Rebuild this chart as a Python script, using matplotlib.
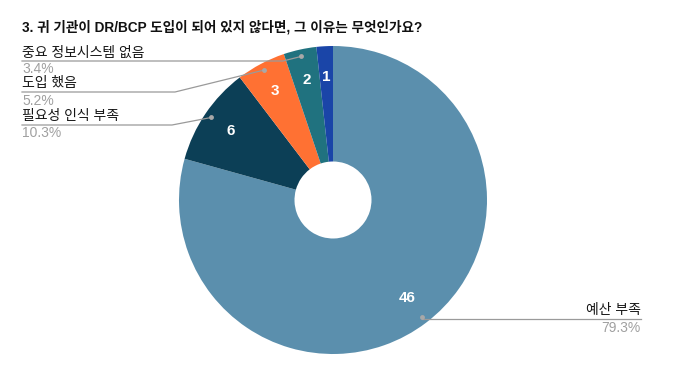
import numpy as np
import matplotlib
matplotlib.use("Agg")
import matplotlib.pyplot as plt

plt.rcParams['font.family'] = ['Liberation Sans', 'Noto Sans CJK KR', 'DejaVu Sans']

# data, clockwise from 12 o'clock
title = "3. 귀 기관이 DR/BCP 도입이 되어 있지 않다면, 그 이유는 무엇인가요?"
categories = ["예산 부족", "필요성 인식 부족", "도입 했음", "중요 정보시스템 없음", "기타"]
counts = [46, 6, 3, 2, 1]
colors = ["#5b8fad", "#0c3f56", "#ff7133", "#20727f", "#1a45a8"]

W, H = 700, 379
fig = plt.figure(figsize=(W / 100, H / 100), dpi=100)
ax = fig.add_axes([0, 0, 1, 1])

cx, cy, R = 333, H - 200, 154
total = sum(counts)

wedges, _, nums = ax.pie(counts, colors=colors, startangle=90, counterclock=False,
                         center=(cx, cy), radius=R, frame=True,
                         autopct=lambda p: f"{round(p * total / 100):d}", pctdistance=0.8,
                         wedgeprops=dict(width=R * 0.75, linewidth=0),
                         textprops=dict(color='white', fontsize=11, fontweight='bold'))
ax.set_xlim(0, W)
ax.set_ylim(0, H)
ax.axis('off')

fig.text(22 / W, 1 - 32 / H, title, fontsize=9.8, fontweight='bold', color='#111111', va='baseline')

def dot_point(w):
    ang = np.radians((w.theta1 + w.theta2) / 2)
    return cx + 0.955 * R * np.cos(ang), cy + 0.955 * R * np.sin(ang)

line_c = '#9a9a9a'
lab_fs = 10
pct_fs = 10
# left side labels: (index, label baseline, line y, pct baseline, knee x)
left = [(3, 57, 61, 73, 283), (2, 87, 92, 105, 175), (1, 120, 125, 137, 172)]
for i, ty, ly, pyy, kx in left:
    px, py = dot_point(wedges[i])
    ax.plot([22, kx, px], [H - ly, H - ly, py], color=line_c, lw=0.9, zorder=3)
    ax.plot(px, py, 'o', ms=3.5, color='#a8a8a8', mec='none', zorder=4)
    ax.text(22, H - ty, categories[i], fontsize=lab_fs, color='#151515', va='baseline', ha='left')
    ax.text(22, H - pyy, f"{counts[i] / total * 100:.1f}%", fontsize=pct_fs,
            color='#a0a0a0', va='baseline', ha='left')

# right side label for the big slice
px, py = dot_point(wedges[0])
ax.plot([px, 641], [H - 319, H - 319], color=line_c, lw=0.9, zorder=3)
ax.plot(px, py, 'o', ms=3.5, color='#a8a8a8', mec='none', zorder=4)
ax.text(641, H - 314, categories[0], fontsize=lab_fs, color='#151515', va='baseline', ha='right')
ax.text(641, H - 332, f"{counts[0] / total * 100:.1f}%", fontsize=pct_fs,
        color='#a0a0a0', va='baseline', ha='right')

fig.savefig("out.png", dpi=100)
